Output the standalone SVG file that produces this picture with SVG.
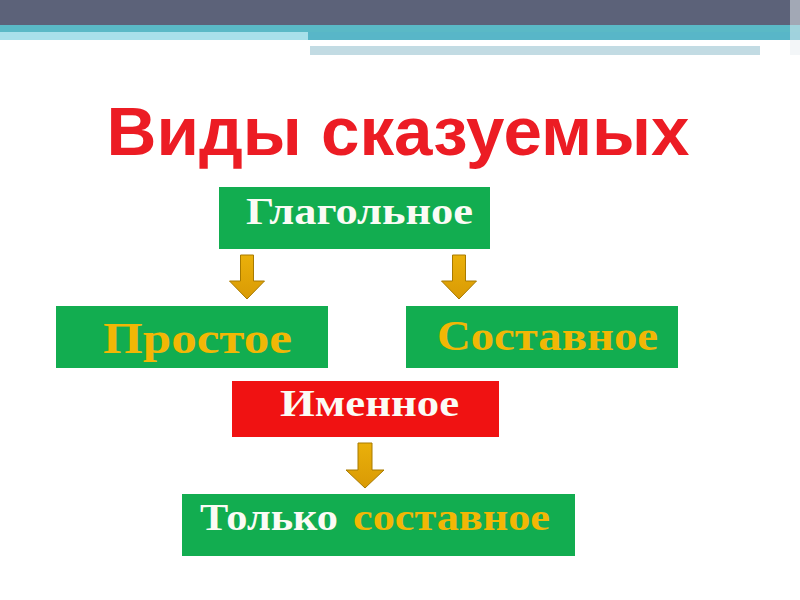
<svg xmlns="http://www.w3.org/2000/svg" width="800" height="600" viewBox="0 0 800 600">
<defs>
<style>
.box{fill:#12ad50}
.red{fill:#f01212}
.lbl{font-family:"Liberation Serif","DejaVu Serif",serif;font-weight:bold}
.w{fill:#fbfbf5}
.g{fill:#f2b705}
.title{font-family:"Liberation Sans","DejaVu Sans",sans-serif;font-weight:bold;fill:#ec1c24}
.arrow{fill:url(#ag);stroke:#a87a00;stroke-width:1}
</style>
<linearGradient id="ag" x1="0" y1="0" x2="0" y2="1">
<stop offset="0" stop-color="#eab00a"/>
<stop offset="1" stop-color="#d99a05"/>
</linearGradient>
</defs>
<rect width="800" height="600" fill="#ffffff"/>
<g id="header">
<rect x="0" y="0" width="800" height="25" fill="#5c6279"/>
<rect x="0" y="25" width="800" height="7" fill="#5ab9c6"/>
<rect x="0" y="32" width="308" height="8" fill="#a8e0ea"/>
<rect x="308" y="32" width="492" height="8" fill="#58b6c8"/>
<rect x="310" y="46" width="450" height="9" fill="#c2dbe3"/>
<rect x="790" y="0" width="10" height="55" fill="#e8eef2" opacity="0.5"/>
</g>
<text class="title" x="398" y="155" font-size="68" text-anchor="middle" textLength="583" lengthAdjust="spacingAndGlyphs">Виды сказуемых</text>
<g id="connectors">
<path class="arrow" d="M240.5 255h13v26h11l-17.5 18l-17.5-18h11z"/>
<path class="arrow" d="M452.5 255h13v26h11l-17.5 18l-17.5-18h11z"/>
<path class="arrow" d="M358 443h14v27h12l-19 18l-19-18h12z"/>
</g>
<g id="node-glagolnoe">
<rect class="box" x="219" y="187" width="271" height="62"/>
<text class="lbl w" x="246" y="224" font-size="37" textLength="227" lengthAdjust="spacingAndGlyphs">Глагольное</text>
</g>
<g id="node-prostoe">
<rect class="box" x="56" y="306" width="272" height="62"/>
<text class="lbl g" x="103" y="353" font-size="45" textLength="189" lengthAdjust="spacingAndGlyphs">Простое</text>
</g>
<g id="node-sostavnoe">
<rect class="box" x="406" y="306" width="272" height="62"/>
<text class="lbl g" x="437" y="350" font-size="43" textLength="221" lengthAdjust="spacingAndGlyphs">Составное</text>
</g>
<g id="node-imennoe">
<rect class="red" x="232" y="381" width="267" height="56"/>
<text class="lbl w" x="280" y="416" font-size="38" textLength="179" lengthAdjust="spacingAndGlyphs">Именное</text>
</g>
<g id="node-tolko">
<rect class="box" x="182" y="494" width="393" height="62"/>
<text class="lbl" x="200" y="530" font-size="38"><tspan class="w" textLength="138" lengthAdjust="spacingAndGlyphs">Только</tspan><tspan class="g" x="353" textLength="197" lengthAdjust="spacingAndGlyphs">составное</tspan></text>
</g>
</svg>
